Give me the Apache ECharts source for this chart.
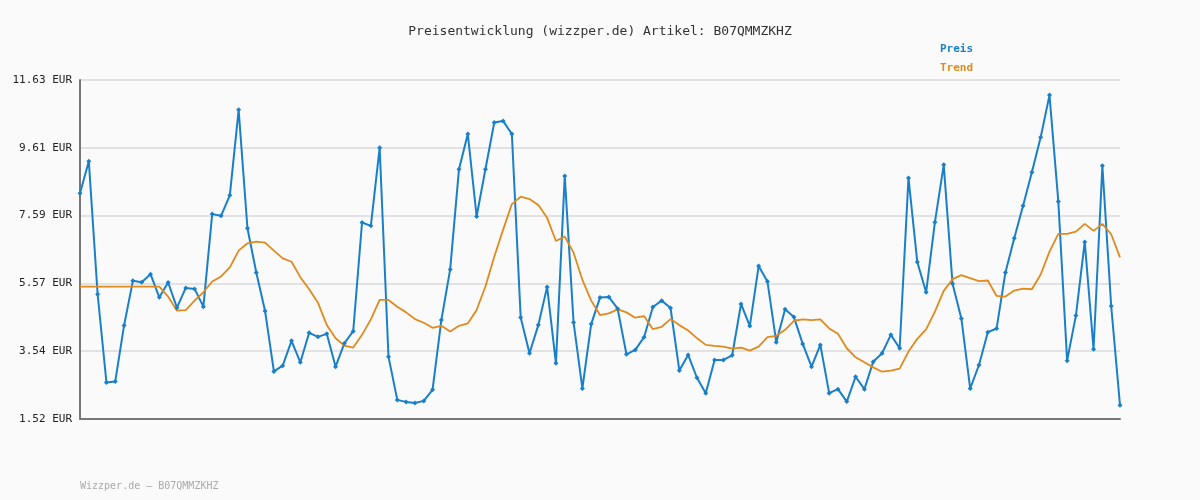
<!DOCTYPE html>
<html>
<head>
<meta charset="utf-8">
<script src="https://cdn.jsdelivr.net/npm/echarts@6/dist/echarts.min.js"></script>
<style>
  body{margin:0;background:#fafafa;}
  #chart{width:1200px;height:500px;}
</style>
</head>
<body>
<div id="chart"></div>
<script>
// Preis (EUR)
var preis = [8.25,9.21,5.24,2.61,2.64,4.31,5.64,5.60,5.84,5.15,5.59,4.84,5.43,5.40,4.87,7.63,7.58,8.19,10.74,7.21,
  5.89,4.74,2.94,3.11,3.85,3.21,4.09,3.97,4.06,3.08,3.78,4.14,7.38,7.28,9.61,3.38,2.09,2.03,2.00,2.06,
  2.39,4.47,5.98,8.97,10.02,7.56,8.97,10.36,10.41,10.02,4.55,3.48,4.32,5.46,3.18,8.77,4.40,2.43,4.35,5.14,
  5.16,4.81,3.45,3.58,3.96,4.86,5.05,4.83,2.97,3.43,2.75,2.29,3.28,3.28,3.42,4.95,4.29,6.08,5.62,3.81,
  4.79,4.56,3.76,3.08,3.73,2.29,2.41,2.04,2.78,2.41,3.23,3.48,4.03,3.63,8.71,6.20,5.30,7.39,9.10,5.55,
  4.52,2.43,3.13,4.11,4.22,5.89,6.91,7.88,8.88,9.92,11.18,8.01,3.26,4.61,6.80,3.60,9.07,4.89,1.93];
var trend = [5.47,5.47,5.47,5.47,5.47,5.47,5.47,5.47,5.47,5.47,5.17,4.75,4.77,5.05,5.30,5.62,5.77,6.04,6.54,6.76,
  6.81,6.78,6.54,6.31,6.21,5.75,5.39,4.99,4.32,3.93,3.71,3.65,4.03,4.49,5.07,5.07,4.87,4.70,4.50,4.39,
  4.24,4.30,4.13,4.30,4.37,4.77,5.47,6.36,7.16,7.93,8.15,8.08,7.90,7.52,6.83,6.96,6.48,5.67,5.05,4.62,
  4.67,4.79,4.70,4.54,4.59,4.20,4.27,4.50,4.32,4.16,3.93,3.73,3.70,3.68,3.62,3.65,3.56,3.68,3.96,4.00,
  4.18,4.45,4.49,4.47,4.49,4.22,4.06,3.63,3.36,3.21,3.06,2.93,2.96,3.02,3.53,3.91,4.19,4.72,5.34,5.69,
  5.81,5.72,5.63,5.65,5.19,5.17,5.35,5.41,5.39,5.83,6.51,7.04,7.04,7.11,7.34,7.13,7.34,7.03,6.34];
var yMin = 1.52, yMax = 11.63;
var tickLabels = ['1.52','3.54','5.57','7.59','9.61','11.63'];
var step = (yMax - yMin) / 5;
var cats = preis.map(function(v, i){ return i + 1; });
var mono = 'DejaVu Sans Mono';

function shift(arr){ return arr.map(function(v){ return +(v - yMin).toFixed(3); }); }

var myChart = echarts.init(document.getElementById('chart'));
var option = {
  backgroundColor: '#fafafa',
  animation: false,
  title: {
    text: 'Preisentwicklung (wizzper.de) Artikel: B07QMMZKHZ',
    left: 'center', top: 20,
    textStyle: {fontFamily: mono, fontSize: 13, fontWeight: 'normal', color: '#333'}
  },
  legend: {
    orient: 'vertical', left: 930, top: 37, itemGap: 7, icon: 'none', itemWidth: 0,
    selectedMode: false,
    textStyle: {fontFamily: mono, fontSize: 11, fontWeight: 'bold'},
    data: [
      {name: 'Preis', textStyle: {color: '#1a7fc9'}},
      {name: 'Trend', textStyle: {color: '#e08a1e'}}
    ]
  },
  graphic: [{
    type: 'text', left: 80, top: 481,
    style: {text: 'Wizzper.de – B07QMMZKHZ', fill: '#aaa', font: '10px "DejaVu Sans Mono"'}
  }],
  grid: {left: 80, right: 80, top: 80, bottom: 81},
  xAxis: {
    type: 'category', data: cats, boundaryGap: false,
    axisLine: {lineStyle: {color: '#777', width: 2}},
    axisTick: {show: false}, axisLabel: {show: false}
  },
  yAxis: {
    type: 'value', min: 0, max: yMax - yMin, interval: step,
    axisLine: {show: true, lineStyle: {color: '#777', width: 2}},
    axisTick: {show: false},
    splitLine: {lineStyle: {color: '#e2e2e2', width: 2}},
    axisLabel: {
      fontFamily: mono, fontSize: 11, color: '#222', margin: 8,
      formatter: function(v){ return tickLabels[Math.round(v / step)] + ' EUR'; }
    }
  },
  series: [
    {
      name: 'Preis', type: 'line', data: shift(preis),
      symbol: 'diamond', symbolSize: 5, showAllSymbol: true,
      itemStyle: {color: '#1a7fc9'}, lineStyle: {color: '#1a7fc9', width: 2}
    },
    {
      name: 'Trend', type: 'line', data: shift(trend), symbol: 'none',
      itemStyle: {color: '#e08a1e'}, lineStyle: {color: '#e08a1e', width: 1.8}
    }
  ]
};
myChart.setOption(option);
</script>
</body>
</html>
